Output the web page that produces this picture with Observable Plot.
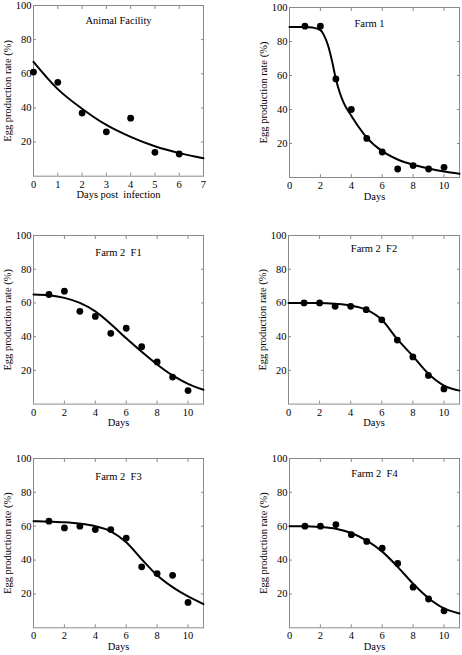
<!DOCTYPE html>
<html>
<head>
<meta charset="utf-8">
<script src="https://cdn.jsdelivr.net/npm/d3@7"></script>
<script src="https://cdn.jsdelivr.net/npm/@observablehq/plot@0.6"></script>
<style>
  html, body { margin: 0; padding: 0; background: #fff; }
  #root { position: relative; width: 462px; height: 655px; overflow: hidden; background: #fff; }
  #root svg { position: absolute; overflow: visible; }
  #root svg text { white-space: pre; }
</style>
</head>
<body>
<div id="root"></div>
<script>
// ---------- data ----------
const yLabel = "Egg production rate (%)";
const yTicks = [20, 40, 60, 80, 100];

const afTitle = "Animal Facility";
const afXLabel = "Days post  infection";
const afXTicks = [0, 1, 2, 3, 4, 5, 6, 7];
const afDays = [0, 1, 2, 3, 4, 5, 6];
const afRate = [61, 55, 37, 26, 34, 14, 13];
const afFitDays = [0, 1, 2, 3, 4, 5, 6, 7];
const afFitRate = [67, 51, 39.5, 30, 23, 17.5, 13.5, 10.5];

const farmXLabel = "Days";
const farmXTicks = [0, 2, 4, 6, 8, 10];
const farmDays = [1, 2, 3, 4, 5, 6, 7, 8, 9, 10];
const farmFitDays = [0, 1, 2, 3, 4, 5, 6, 7, 8, 9, 10, 11];

const f1Title = "Farm 1";
const f1Rate = [89, 89, 58, 40, 23, 15, 5, 7, 5, 6];
const f1FitDays = [0, 1, 1.5, 2, 2.25, 2.5, 2.75, 3, 3.25, 3.5, 4, 4.5, 5, 6, 7, 8, 9, 10, 11];
const f1FitRate = [88.6, 88.6, 88.2, 86.7, 83.3, 77.5, 68.6, 58, 50, 44, 36.3, 29.4, 23.5, 15.5, 10.6, 7.5, 5.3, 3.5, 2.2];

const f2aTitle = "Farm 2  F1";
const f2aRate = [65, 67, 55, 52, 42, 45, 34, 25, 16, 8];
const f2aFitRate = [65, 64.5, 63, 60, 55, 47.5, 39, 31, 23.5, 17, 12, 8.5];

const f2bTitle = "Farm 2  F2";
const f2bRate = [60, 60, 58, 58, 56, 50, 38, 28, 17, 9];
const f2bFitRate = [60, 60, 60, 59.5, 58.5, 56, 50, 38.5, 28.5, 18, 11, 8];

const f2cTitle = "Farm 2  F3";
const f2cRate = [63, 59, 60, 58, 58, 53, 36, 32, 31, 15];
const f2cFitRate = [63, 62.7, 62.3, 61.5, 60, 57, 50.5, 40.5, 31, 24, 18.5, 14];

const f2dTitle = "Farm 2  F4";
const f2dRate = [60, 60, 61, 55, 51, 47, 38, 24, 17, 10];
const f2dFitRate = [60, 60, 59.5, 58.5, 56, 51.5, 45, 36, 26, 17.5, 11.5, 8.5];

// ---------- layout (frame boxes in page pixels) ----------
const panels = [
  {title: afTitle,  xLabel: afXLabel,   xMax: 7,  xTicks: afXTicks,   days: afDays,   rate: afRate,  fitDays: afFitDays,   fitRate: afFitRate,  box: [33.3, 5.3, 203.3, 176],   tdy: 15.5, tdx: 0},
  {title: f1Title,  xLabel: farmXLabel, xMax: 11, xTicks: farmXTicks, days: farmDays, rate: f1Rate,  fitDays: f1FitDays,   fitRate: f1FitRate,  box: [289.3, 6.7, 459.3, 176.7], tdy: 16, tdx: -5},
  {title: f2aTitle, xLabel: farmXLabel, xMax: 11, xTicks: farmXTicks, days: farmDays, rate: f2aRate, fitDays: farmFitDays, fitRate: f2aFitRate, box: [33.3, 234.7, 203.3, 403.3], tdy: 17, tdx: 0},
  {title: f2bTitle, xLabel: farmXLabel, xMax: 11, xTicks: farmXTicks, days: farmDays, rate: f2bRate, fitDays: farmFitDays, fitRate: f2bFitRate, box: [287.7, 234.7, 458.7, 403.3], tdy: 13, tdx: 0},
  {title: f2cTitle, xLabel: farmXLabel, xMax: 11, xTicks: farmXTicks, days: farmDays, rate: f2cRate, fitDays: farmFitDays, fitRate: f2cFitRate, box: [33.3, 458, 203.3, 627.3],   tdy: 18, tdx: 0},
  {title: f2dTitle, xLabel: farmXLabel, xMax: 11, xTicks: farmXTicks, days: farmDays, rate: f2dRate, fitDays: farmFitDays, fitRate: f2dFitRate, box: [288.7, 458, 458.7, 627.3],  tdy: 15, tdx: 0}
];

const mL = 34, mR = 6, mT = 6, mB = 30;
const root = document.getElementById("root");
const font = "'Liberation Serif', 'DejaVu Serif', serif";
const fmt = d => String(d);

for (const p of panels) {
  const [x0, y0, x1, y1] = p.box;
  const fw = x1 - x0, fh = y1 - y0;
  const pts = p.days.map((d, i) => ({day: d, rate: p.rate[i]}));
  const fit = p.fitDays.map((d, i) => ({day: d, rate: p.fitRate[i]}));
  const svg = Plot.plot({
    width: mL + fw + mR,
    height: mT + fh + mB,
    marginLeft: mL, marginRight: mR, marginTop: mT, marginBottom: mB,
    style: {fontFamily: font, fontSize: "10.5px", color: "black", background: "transparent", overflow: "visible"},
    x: {domain: [0, p.xMax]},
    y: {domain: [0, 100]},
    marks: [
      Plot.frame({stroke: "#8a8a8a"}),
      Plot.axisX({ticks: p.xTicks, tickFormat: fmt, tickSize: -3, tickPadding: 7, stroke: "#8a8a8a", label: p.xLabel, labelAnchor: "center", labelOffset: 22, labelArrow: "none"}),
      Plot.axisX({anchor: "top", ticks: p.xTicks, tickSize: -3, stroke: "#8a8a8a", tickFormat: () => "", label: null}),
      Plot.axisY({ticks: yTicks, tickFormat: fmt, tickSize: -3, tickPadding: 5, stroke: "#8a8a8a", label: yLabel, labelAnchor: "center", labelOffset: 30, labelArrow: "none"}),
      Plot.axisY({anchor: "right", ticks: yTicks, tickSize: -3, stroke: "#8a8a8a", tickFormat: () => "", label: null}),
      Plot.line(fit, {x: "day", y: "rate", curve: "monotone-x", stroke: "black", strokeWidth: 2}),
      Plot.dot(pts, {x: "day", y: "rate", r: 3.4, fill: "black", stroke: "none"}),
      Plot.text([p.title], {frameAnchor: "top", lineAnchor: "middle", dy: p.tdy, dx: p.tdx, fontSize: 10.5, fill: "black"})
    ]
  });
  svg.style.left = (x0 - mL) + "px";
  svg.style.top = (y0 - mT) + "px";
  root.appendChild(svg);
}
</script>
</body>
</html>
